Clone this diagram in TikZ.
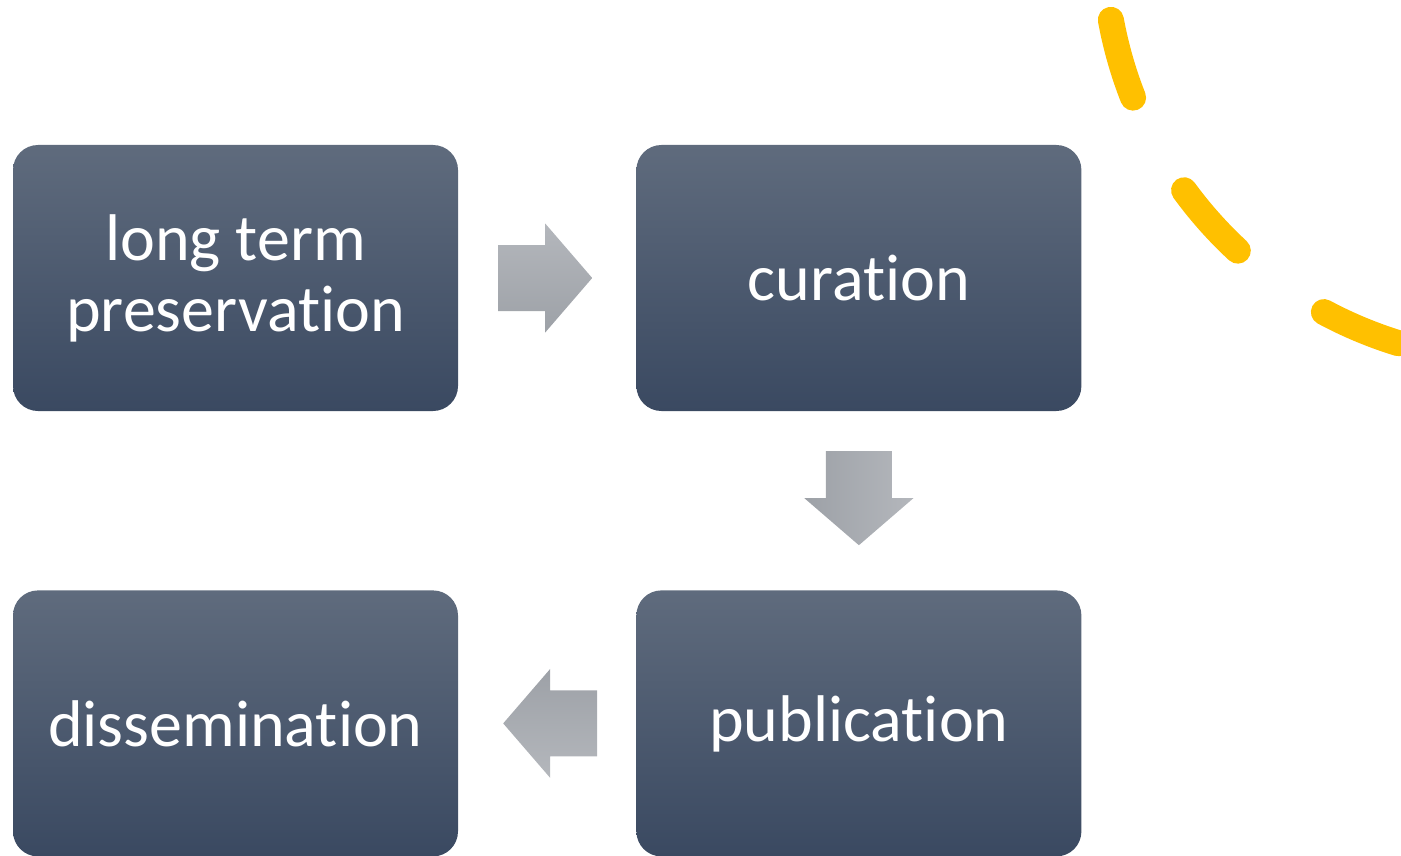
\documentclass[tikz,border=0pt]{standalone}
\usepackage{fontspec}
\setmainfont{Carlito}[Ligatures=NoCommon]
\usetikzlibrary{positioning}
\definecolor{boxtop}{HTML}{5F6B7D}
\definecolor{boxbot}{HTML}{3A4961}
\definecolor{arrlight}{HTML}{B4B7BC}
\definecolor{arrdark}{HTML}{9DA1A7}
\definecolor{arcyellow}{HTML}{FFC000}

\begin{document}
\begin{tikzpicture}[x=1pt, y=-1pt]
        \tikzstyle{stage}=[rectangle, rounded corners=25pt, minimum width=445pt, minimum height=266pt, inner sep=0pt, top color=boxtop, bottom color=boxbot, text=white, align=center, font=\fontsize{66}{71}\selectfont]
        \useasboundingbox (0,0) rectangle (1401,856);
        \node [stage] (preserve) at (235.5,278) {long term\\preservation};
        \node [stage, right=178pt of preserve] (curate) {curation};
        \node [stage, below=179pt of curate] (publish) {publication};
        \node [stage, left=178pt of publish] (spread) {dissemination};
        % block arrows between the stages
        \path [top color=arrlight, bottom color=arrdark] (preserve.east) ++(40,-33) -- ++(47,0) -- ++(0,-21.5) -- ++(47,54.5) -- ++(-47,54.5) -- ++(0,-21.5) -- ++(-47,0) -- cycle;
        \path [left color=arrdark, right color=arrlight] (curate.south) ++(-33,40) -- ++(66,0) -- ++(0,47) -- ++(21.5,0) -- ++(-54.5,47) -- ++(-54.5,-47) -- ++(21.5,0) -- cycle;
        \path [top color=arrdark, bottom color=arrlight] (publish.west) ++(-39,-33) -- ++(-47,0) -- ++(0,-21.5) -- ++(-47,54.5) -- ++(47,54.5) -- ++(0,-21.5) -- ++(47,0) -- cycle;
        \draw [arcyellow, line width=26pt, line cap=round, dash pattern=on 81pt off 106pt] (1521,-55.4) ++(169.6:417) arc (169.6:95:417);
    \end{tikzpicture}
\end{document}
